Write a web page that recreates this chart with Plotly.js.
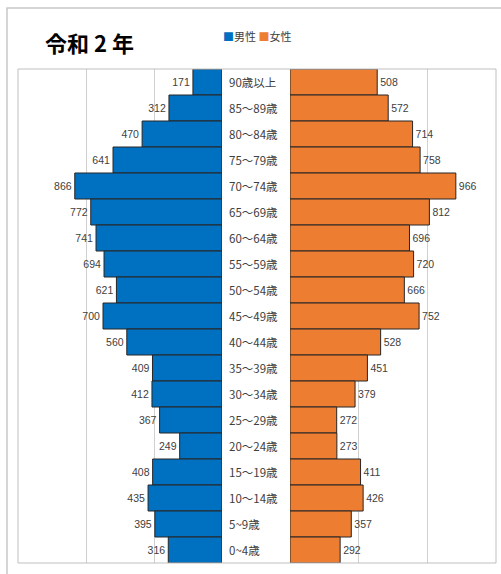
<!DOCTYPE html>
<html><head><meta charset="utf-8">
<script src="https://cdn.plot.ly/plotly-3.0.1.min.js"></script>
<style>body{margin:0;padding:0;background:#fff}#c{width:501px;height:574px}</style>
</head><body><div id="c"></div>
<script>
const ages = ["90歳以上","85～89歳","80～84歳","75～79歳","70～74歳","65～69歳","60～64歳","55～59歳","50～54歳","45～49歳","40～44歳","35～39歳","30～34歳","25～29歳","20～24歳","15～19歳","10～14歳","5~9歳","0~4歳"];
const male = [171,312,470,641,866,772,741,694,621,700,560,409,412,367,249,408,435,395,316];
const female = [508,572,714,758,966,812,696,720,666,752,528,451,379,272,273,411,426,357,292];
const titleText = "令和 2 年";
const maleName = "男性", femaleName = "女性";

const W = 501, H = 574;
const px = v => v / W, py = v => 1 - v / H;
const numFont = {family: "Liberation Sans Narrow, Arial Narrow, Liberation Sans, sans-serif", size: 10.5, color: "#404040"};
const lblFont = {family: "Liberation Sans Narrow, Noto Sans CJK JP, sans-serif", size: 11.5, color: "#404040"};

const traces = [
  {type:"bar", orientation:"h", y: ages, x: male, xaxis:"x", yaxis:"y", name: maleName,
   marker:{color:"#0070C0", line:{color:"#262626", width:1}}, width:1,
   text: male.map(String), textposition:"outside", cliponaxis:false, textfont:numFont, hoverinfo:"x+y"},
  {type:"bar", orientation:"h", y: ages, x: female, xaxis:"x2", yaxis:"y2", name: femaleName,
   marker:{color:"#ED7D31", line:{color:"#262626", width:1}}, width:1,
   text: female.map(String), textposition:"outside", cliponaxis:false, textfont:numFont, hoverinfo:"x+y"}
];

const yTop = py(69), yBot = py(563);
const xaxCommon = {range:[0,1200], dtick:400, showgrid:true, gridcolor:"#d0d0d0", gridwidth:1,
  zeroline:false, showticklabels:false, ticks:"", showline:false, fixedrange:true};
const yCommon = {type:"category", autorange:"reversed", showticklabels:false, ticks:"", showgrid:false, zeroline:false, showline:false, fixedrange:true};

const annotations = [
  {xref:"paper", yref:"paper", x:px(43), y:py(42), xanchor:"left", yanchor:"middle", showarrow:false,
   text:"<b>"+titleText+"</b>", font:{family:"Noto Sans CJK JP, sans-serif", size:22, color:"#000"}},
  {xref:"paper", yref:"paper", x:px(221), y:py(36), xanchor:"left", yanchor:"middle", showarrow:false,
   text:"<span style='color:#0070C0'>■</span>"+maleName+" <span style='color:#ED7D31'>■</span>"+femaleName,
   font:{family:"Noto Sans CJK JP, sans-serif", size:11, color:"#404040"}}
];
ages.forEach(a => annotations.push({xref:"paper", yref:"y", x:px(227), y:a, xanchor:"left", yanchor:"middle",
  showarrow:false, text:a, font:lblFont}));

const layout = {
  width: W, height: H, margin:{l:0,r:0,t:0,b:0}, paper_bgcolor:"#fff", plot_bgcolor:"rgba(0,0,0,0)",
  showlegend:false, bargap:0,
  xaxis: Object.assign({domain:[px(18), px(222)], anchor:"y"}, xaxCommon, {range:[1200,0]}),
  xaxis2: Object.assign({domain:[px(290), px(496)], anchor:"y2"}, xaxCommon),
  yaxis: Object.assign({domain:[yBot, yTop], anchor:"x"}, yCommon),
  yaxis2: Object.assign({domain:[yBot, yTop], anchor:"x2"}, yCommon),
  annotations: annotations,
  shapes: [
    {type:"rect", xref:"paper", yref:"paper", x0:px(7), x1:1.05, y0:py(8), y1:-0.05, line:{color:"#c8c8c8", width:1.5}, fillcolor:"rgba(0,0,0,0)"},
    {type:"rect", xref:"paper", yref:"paper", x0:px(18), x1:px(496), y0:yBot, y1:yTop, line:{color:"#bfbfbf", width:1}, fillcolor:"rgba(0,0,0,0)"}
  ]
};
Plotly.newPlot("c", traces, layout, {displayModeBar:false, staticPlot:true});
</script></body></html>
